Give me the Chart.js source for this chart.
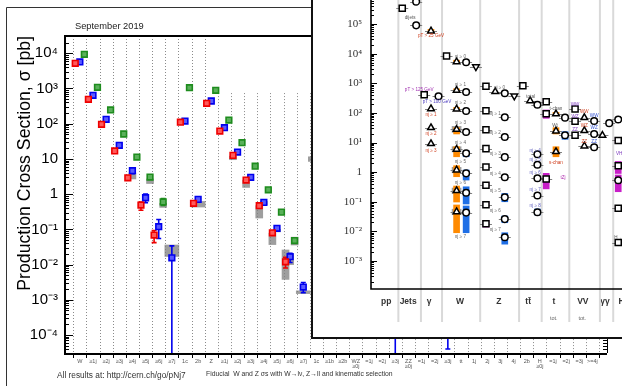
<!DOCTYPE html>
<html>
<head>
<meta charset="utf-8">
<script src="https://cdn.jsdelivr.net/npm/chart.js@4.4.1/dist/chart.umd.min.js"></script>
<style>
  html, body { margin: 0; padding: 0; background: #fff; overflow: hidden; }
  #page { position: relative; width: 622px; height: 386px; overflow: hidden; background: #fff; }
  #mainChart { position: absolute; left: 0; top: 0; }
  #insetBox { position: absolute; left: 311px; top: 0; width: 309px; height: 337px;
              border-left: 2px solid #111; border-bottom: 2px solid #111; background: #fff; }
  #insetChart { position: absolute; left: 0; top: 0; }
</style>
</head>
<body>
<div id="page">
  <canvas id="mainChart" width="622" height="386"></canvas>
  <div id="insetBox"><canvas id="insetChart" width="309" height="337"></canvas></div>
</div>
<script>
// ---------------- V+jets fiducial cross sections ----------------
const binLabels = ['W', '≥1j', '≥2j', '≥3j', '≥4j', '≥5j', '≥6j', '≥7j', '1c', '2b',
  'Z', '≥1j', '≥2j', '≥3j', '≥4j', '≥5j', '≥6j', '≥7j', '1c', '≥1b',
  '≥2b', ['WZ', '≥0j'], '=1j', '=2j', '≥3j', ['ZZ', '≥0j'], '=1j', '=2j', '≥3j', 'tt',
  '1j', '2j', '3j', '4j', '2b', ['H', '≥0j'], '=1j', '=2j', '=3j', '>=4j'];

const N = null;
// measured cross sections [pb] per bin
const sigma7TeV = [5200, 494, 96, 16.8, 2.92, 0.49, 0.069, N, 110, 0.55,
  380, 62, 12.6, 2.51, 0.47, 0.080, 0.012, N, N, N,
  N, N, N, N, N, N, N, N, N, N,
  N, N, N, N, N, N, N, N, N, N];
const sigma8TeV = [5670, 641, 133, 24.3, 4.62, 0.79, 0.119, 0.0156, 119, 0.71,
  441, 77, 15.7, 3.0, 0.585, 0.107, 0.0167, 0.0023, N, N,
  N, N, N, N, 0.004, N, N, N, 0.0003, N,
  N, N, N, N, N, N, N, N, N, N];
const sigma13TeV = [9340, 1080, 245, 51, 11.3, 3.06, 0.60, N, 1054, N,
  889, 127, 28.8, 6.2, 1.33, 0.309, 0.048, N, N, N,
  N, N, N, N, N, N, N, N, N, N,
  N, N, N, N, N, N, N, N, N, N];

// experimental uncertainty ranges [low, high] keyed by bin
const err7TeV = { 5: [0.35, 0.60], 6: [0.042, 0.093], 16: [0.008, 0.016] };
const err8TeV = { 4: [3.8, 5.6], 5: [0.57, 1.0], 6: [0.055, 0.19], 7: [1e-7, 0.034],
  16: [0.0115, 0.021], 17: [0.0016, 0.0031], 24: [1e-7, 0.008], 28: [4e-5, 0.0006] };
const err13TeV = { 5: [2.6, 3.5], 6: [0.48, 0.75] };

// theory prediction ranges [low, high] keyed by bin
const theory7TeV = { 12: [9.5, 12], 13: [1.55, 2.5], 14: [0.21, 0.47], 15: [0.037, 0.078],
  16: [0.0038, 0.026], 18: [8.5, 11.5] };
const theory8TeV = { 4: [2.7, 4.0], 14: [0.5, 0.62], 15: [0.085, 0.1], 16: [0.010, 0.020] };
const theory13TeV = { 5: [2.0, 2.7], 6: [0.42, 0.55], 16: [0.036, 0.06] };
const theoryShared = { 7: [0.017, 0.036], 9: [0.43, 0.62], 17: [0.0015, 0.0018] };

// ---------------- inset: SM summary ----------------
const insetGroups = ['pp', 'Jets', 'γ', 'W', 'Z', 'tt̄', 't', 'VV', 'γγ', 'H'];
const insetGroupPos = [6.1, 14.8, 23.2, 35.5, 50.9, 62.6, 72.9, 84.4, 93.2, 99.8];
const insetDividers = [10.9, 19.9, 28.3, 43.5, 59.0, 68.0, 79.0, 91.2, 96.5];

// [position, sigma pb]
const meas7TeV = [[12.45, 3.4e5], [21.2, 411], [30.1, 8300],
  [45.8, 789], [45.8, 118], [45.8, 27], [45.8, 6.2], [45.8, 1.49], [45.8, 0.36], [45.8, 0.079], [45.8, 0.018],
  [60.5, 827], [69.8, 238], [69.8, 93], [69.8, 0.59],
  [81.3, 135], [81.3, 52], [81.3, 17.5],
  [98.5, 11.7], [98.5, 1.65], [98.5, 0.06], [98.5, 0.0042]];
const meas8TeV = [[23.9, 5.8e4], [23.9, 138], [23.9, 31.6], [23.9, 9.1],
  [34.1, 5300], [34.1, 578], [34.1, 135], [34.1, 27.9], [34.1, 5.9], [34.1, 1.18], [34.1, 0.236], [34.1, 0.046],
  [49.5, 519], [63.4, 257], [73.7, 93], [73.7, 24.4], [73.7, 4.9],
  [85.0, 69], [85.0, 25], [85.0, 7.6], [92.2, 17.5]];
const meas13TeV = [[18.0, 5.66e5], [18.0, 9.0e4], [26.9, 363],
  [37.9, 5100], [37.9, 507], [37.9, 116], [37.9, 22.6], [37.9, 4.3], [37.9, 0.91], [37.9, 0.202], [37.9, 0.043],
  [53.3, 458], [53.3, 71], [53.3, 15.4], [53.3, 3.2], [53.3, 0.67], [53.3, 0.141], [53.3, 0.026], [53.3, 0.0063],
  [66.3, 189], [66.3, 4.0], [66.3, 1.78], [66.3, 0.62], [66.3, 0.162], [66.3, 0.044],
  [77.3, 69], [77.3, 17.5], [88.9, 53], [88.9, 19.4], [88.9, 6.9], [94.9, 45], [98.5, 60], [98.5, 0.53]];
const meas5TeV = [[41.8, 3600], [57.1, 372]];

// [position, low, high]
const pred8TeV = [[23.9, 5.0e4, 6.6e4], [34.1, 4700, 6000], [34.1, 510, 650], [34.1, 118, 152],
  [34.1, 19.4, 31.6], [34.1, 3.3, 7.2], [34.1, 0.70, 1.65], [34.1, 0.098, 0.34], [34.1, 0.009, 0.078],
  [73.7, 84, 104], [73.7, 19.4, 31.6], [73.7, 3.3, 7.2]];
const pred13TeV = [[37.9, 3.3, 5.3], [37.9, 0.54, 1.18], [37.9, 0.084, 0.32], [37.9, 0.009, 0.072],
  [53.3, 0.10, 0.19], [53.3, 0.0196, 0.033], [53.3, 0.0037, 0.009], [66.3, 0.036, 0.057], [77.3, 12.8, 23.2]];
const pred7TeV = [[45.8, 0.30, 0.45], [45.8, 0.065, 0.10], [45.8, 0.014, 0.023],
  [69.8, 200, 285], [69.8, 65.6, 125], [69.8, 0.272, 0.91],
  [98.5, 9.5, 14.5], [98.5, 0.9, 2.3], [98.5, 0.218, 0.80], [98.5, 0.05, 0.072]];
const predNNLO = [[34.1, 22, 35], [34.1, 4.8, 7.2], [34.1, 0.95, 1.45], [34.1, 0.19, 0.29], [34.1, 0.037, 0.056]];

// [text, position, sigma, colour]
const insetNotes = [
  ['dijets', 15.6, 1.68e5, '#555'], ['pT > 25 GeV', 23.9, 3.94e4, '#d04020'],
  ['pT > 125 GeV', 19.2, 625, '#a030b0'], ['pT > 100 GeV', 26.3, 238, '#5040c0'],
  ['nj ≥ 1', 23.9, 89.5, '#d04020'], ['nj ≥ 2', 23.9, 20.5, '#d04020'], ['nj ≥ 3', 23.9, 5.46, '#d04020'],
  ['nj ≥ 0', 35.6, 7870, '#666'], ['nj ≥ 1', 35.6, 893, '#666'], ['nj ≥ 2', 35.6, 215, '#666'],
  ['nj ≥ 3', 35.6, 48, '#666'], ['nj ≥ 4', 35.6, 10.2, '#666'], ['nj ≥ 5', 35.6, 2.25, '#666'],
  ['nj ≥ 6', 35.6, 0.453, '#666'], ['nj ≥ 7', 35.6, 0.0066, '#666'],
  ['nj ≥ 0', 51.2, 730, '#666'], ['nj ≥ 1', 49.5, 93.8, '#666'], ['nj ≥ 2', 49.5, 21.4, '#666'],
  ['nj ≥ 3', 49.5, 4.19, '#666'], ['nj ≥ 4', 49.5, 0.91, '#666'], ['nj ≥ 5', 49.5, 0.236, '#666'],
  ['nj ≥ 6', 49.5, 0.0488, '#666'], ['nj ≥ 7', 49.5, 0.0114, '#666'],
  ['total', 63.6, 352, '#555'],
  ['nj ≥ 4', 65.4, 5.28, '#6060c0'], ['nj ≥ 5', 65.4, 2.56, '#6060c0'], ['nj ≥ 6', 65.4, 0.955, '#6060c0'],
  ['nj ≥ 7', 65.4, 0.263, '#6060c0'], ['nj ≥ 8', 65.4, 0.072, '#6060c0'],
  ['t-chan', 73.7, 143, '#555'], ['Wt', 73.3, 38, '#555'], ['s-chan', 73.7, 2.15, '#d04020'], ['tZj', 76.5, 0.668, '#b030b0'],
  ['WW', 81.3, 195, '#8040c0'], ['WZ', 81.3, 74.3, '#8040c0'], ['ZZ', 81.3, 26.4, '#8040c0'],
  ['WW', 85.0, 107, '#d04020'], ['WZ', 85.0, 36, '#d04020'], ['ZZ', 85.0, 10.6, '#d04020'],
  ['WW', 88.9, 80, '#3050d0'], ['WZ', 88.9, 31.6, '#3050d0'], ['ZZ', 88.9, 11, '#3050d0'],
  ['VH', 98.9, 4.3, '#8040c0'], ['H→', 98.5, 0.0059, '#555']];

// ---------------- helpers ----------------
const SANS = "'Liberation Sans', Arial, Helvetica, sans-serif";
const SERIF = "'Liberation Serif', 'Times New Roman', serif";
const SUP = { '-': '⁻', '0': '⁰', '1': '¹', '2': '²', '3': '³', '4': '⁴', '5': '⁵', '6': '⁶', '7': '⁷', '8': '⁸', '9': '⁹' };
const sup = e => String(e).split('').map(c => SUP[c]).join('');
const decadeTicks = (lo, hi) => { const t = []; for (let e = lo; e <= hi; e++) t.push({ value: Math.pow(10, e) }); return t; };
// keep the plot area exactly where the layout puts it
const noEdgePadding = s => { s.paddingLeft = 0; s.paddingRight = 0; s.paddingTop = 0; s.paddingBottom = 0; };

const seriesDefs = [
  { label: '7 TeV', values: sigma7TeV, errors: err7TeV, theory: theory7TeV, offset: -0.35, color: '#ee0000', fill: '#ff5a5a' },
  { label: '8 TeV', values: sigma8TeV, errors: err8TeV, theory: theory8TeV, offset: 0.0, color: '#0000ee', fill: '#5a5aff' },
  { label: '13 TeV', values: sigma13TeV, errors: err13TeV, theory: theory13TeV, offset: 0.34, color: '#1e8c1e', fill: '#5ab05a' }
];

// gridlines stop below the legend box on the right-hand side
const legendFromBoundary = 10.5;
const legendFloor = 740;

// ---------------- main chart ----------------
const mainDatasets = [];
const narrowBands = [];
seriesDefs.forEach(s => Object.keys(s.theory).forEach(k => narrowBands.push({ x: +k + s.offset, y: s.theory[k] })));
mainDatasets.push({ type: 'bar', data: narrowBands, backgroundColor: 'rgba(125,125,125,0.75)',
  barThickness: 7, grouped: false, order: 6 });
mainDatasets.push({ type: 'bar', data: Object.keys(theoryShared).map(k => ({ x: +k, y: theoryShared[k] })),
  backgroundColor: 'rgba(125,125,125,0.75)', barThickness: 14, grouped: false, order: 5 });
seriesDefs.forEach(s => {
  const pts = [];
  s.values.forEach((v, i) => { if (v != null) pts.push({ x: i + s.offset, y: v }); });
  mainDatasets.push({ type: 'scatter', label: s.label, data: pts, pointStyle: 'rect', pointRadius: 4,
    borderWidth: 1.6, borderColor: s.color, backgroundColor: s.fill, order: 0 });
});

const mainDecor = {
  id: 'mainDecor',
  beforeDraw(chart) { chart.$errDone = false; },
  beforeDatasetsDraw(chart) {
    const { ctx, chartArea: a, scales: { x, y } } = chart;
    ctx.save();
    ctx.strokeStyle = '#8a8a8a'; ctx.lineWidth = 1; ctx.setLineDash([1, 2]);
    for (let b = -0.5; b <= 39.5; b += 1) {
      const px = Math.round(x.getPixelForValue(b)) + 0.5;
      const top = b >= legendFromBoundary ? y.getPixelForValue(legendFloor) : a.top;
      ctx.beginPath(); ctx.moveTo(px, top); ctx.lineTo(px, a.bottom); ctx.stroke();
    }
    ctx.restore();
  },
  beforeDatasetDraw(chart, args) {
    if (chart.$errDone || args.meta.type !== 'scatter') return;
    chart.$errDone = true;
    const { ctx, chartArea: a, scales: { x, y } } = chart;
    ctx.save();
    ctx.beginPath(); ctx.rect(a.left, a.top, a.right - a.left, a.bottom - a.top); ctx.clip();
    seriesDefs.forEach(s => {
      ctx.strokeStyle = s.color; ctx.lineWidth = 1.6;
      Object.keys(s.errors).forEach(k => {
        const [lo, hi] = s.errors[k];
        const px = x.getPixelForValue(+k + s.offset);
        const yl = Math.min(y.getPixelForValue(lo), a.bottom + 2);
        const yh = y.getPixelForValue(hi);
        ctx.beginPath(); ctx.moveTo(px, yl); ctx.lineTo(px, yh);
        ctx.moveTo(px - 2.5, yh); ctx.lineTo(px + 2.5, yh);
        if (yl < a.bottom) { ctx.moveTo(px - 2.5, yl); ctx.lineTo(px + 2.5, yl); }
        ctx.stroke();
      });
    });
    ctx.restore();
  },
  afterDraw(chart) {
    const { ctx, chartArea: a, scales: { x, y } } = chart;
    ctx.save();
    // outer frame
    ctx.strokeStyle = '#333'; ctx.lineWidth = 1;
    ctx.beginPath(); ctx.moveTo(6.5, 386); ctx.lineTo(6.5, 7.5); ctx.lineTo(622, 7.5); ctx.stroke();
    // axis frame
    ctx.strokeStyle = '#000'; ctx.lineWidth = 2;
    ctx.beginPath(); ctx.moveTo(a.left, a.top); ctx.lineTo(a.right, a.top); ctx.stroke();
    ctx.beginPath(); ctx.moveTo(a.left, a.top - 1); ctx.lineTo(a.left, a.bottom + 1); ctx.lineTo(a.right, a.bottom + 1); ctx.stroke();
    ctx.lineWidth = 1;
    ctx.beginPath(); ctx.moveTo(a.right + 0.5, a.top); ctx.lineTo(a.right + 0.5, a.bottom); ctx.stroke();
    // log tick marks, pointing inward
    ctx.beginPath();
    for (let e = -5; e <= 4; e++) for (let m = 1; m <= 9; m++) {
      const v = m * Math.pow(10, e);
      if (v < y.min || v > y.max) continue;
      const py = Math.round(y.getPixelForValue(v)) + 0.5;
      const len = m === 1 ? 8 : 4;
      ctx.moveTo(a.left, py); ctx.lineTo(a.left + len, py);
      ctx.moveTo(a.right, py); ctx.lineTo(a.right - len, py);
    }
    // bin boundary ticks below the axis
    for (let b = -0.5; b <= 39.5; b += 1) {
      const px = Math.round(x.getPixelForValue(b)) + 0.5;
      ctx.moveTo(px, a.bottom + 1); ctx.lineTo(px, a.bottom + 5);
    }
    ctx.stroke();
    // texts
    ctx.fillStyle = '#222'; ctx.textBaseline = 'alphabetic'; ctx.textAlign = 'left';
    ctx.font = '9.3px ' + SANS; ctx.fillText('September 2019', 75, 29);
    ctx.fillStyle = '#333';
    ctx.font = '8.3px ' + SANS; ctx.fillText('All results at: http://cern.ch/go/pNj7', 57, 377.5);
    ctx.font = '6.8px ' + SANS; ctx.fillText('Fiducial  W and Z σs with W→lν, Z→ll and kinematic selection', 206, 375.5);
    ctx.restore();
  }
};

new Chart(document.getElementById('mainChart'), {
  type: 'scatter',
  data: { datasets: mainDatasets },
  options: {
    responsive: false, animation: false, devicePixelRatio: 1,
    layout: { autoPadding: false, padding: { left: 0, right: 15, top: 36, bottom: 0 } },
    plugins: { legend: { display: false }, tooltip: { enabled: false }, title: { display: false } },
    scales: {
      x: {
        type: 'linear', min: -1.13, max: 40.11, offset: false,
        afterBuildTicks: s => { s.ticks = binLabels.map((_, i) => ({ value: i })); },
        afterFit: s => { s.height = 33; noEdgePadding(s); },
        grid: { display: false, drawTicks: false, tickLength: 0, offset: false },
        border: { display: false },
        ticks: { autoSkip: false, maxRotation: 0, minRotation: 0, padding: 6, color: '#555',
          font: { size: 5.5, family: SANS, lineHeight: 0.95 },
          callback: v => binLabels[Math.round(v)] }
      },
      y: {
        type: 'logarithmic', min: 3.09e-5, max: 3.09e4,
        afterBuildTicks: s => { s.ticks = decadeTicks(-4, 4); },
        afterFit: s => { s.width = 65; noEdgePadding(s); },
        grid: { display: false, drawTicks: false, tickLength: 0 },
        border: { display: false },
        title: { display: true, text: 'Production Cross Section, σ [pb]', align: 'end', color: '#000',
          font: { size: 17.7, family: SANS }, padding: { top: 14, bottom: 0 } },
        ticks: { padding: 7, color: '#000', font: { size: 15, family: SANS },
          callback: v => { const e = Math.round(Math.log10(v)); return e === 0 ? '1' : e === 1 ? '10' : '10' + sup(e); } }
      }
    }
  },
  plugins: [mainDecor]
});

// ---------------- inset chart ----------------
const toPts = arr => arr.map(p => ({ x: p[0], y: p[1] }));
const toBars = arr => arr.map(p => ({ x: p[0], y: [p[1], p[2]] }));
const markerBase = { type: 'scatter', backgroundColor: '#fff', borderColor: '#000', borderWidth: 1.5, order: 0 };
const insetDatasets = [
  { type: 'bar', data: toBars(predNNLO), backgroundColor: '#a0a0a0', barThickness: 9, grouped: false, order: 9 },
  { type: 'bar', data: toBars(pred8TeV), backgroundColor: '#ff8a00', barThickness: 6, grouped: false, order: 8 },
  { type: 'bar', data: toBars(pred13TeV), backgroundColor: '#1f6fe6', barThickness: 6, grouped: false, order: 8 },
  { type: 'bar', data: toBars(pred7TeV), backgroundColor: '#c81ec8', barThickness: 6, grouped: false, order: 8 },
  Object.assign({}, markerBase, { label: '7 TeV', data: toPts(meas7TeV), pointStyle: 'rect', pointRadius: 4.3 }),
  Object.assign({}, markerBase, { label: '8 TeV', data: toPts(meas8TeV), pointStyle: 'triangle', pointRadius: 3.8 }),
  Object.assign({}, markerBase, { label: '13 TeV', data: toPts(meas13TeV), pointStyle: 'circle', pointRadius: 3.3 }),
  Object.assign({}, markerBase, { label: '5 TeV', data: toPts(meas5TeV), pointStyle: 'triangle', rotation: 180, pointRadius: 3.8 })
];

const insetDecor = {
  id: 'insetDecor',
  beforeDraw(chart) { chart.$whiskDone = false; },
  beforeDatasetsDraw(chart) {
    const { ctx, scales: { x } } = chart;
    ctx.save(); ctx.strokeStyle = '#d9d9d9'; ctx.lineWidth = 2;
    insetDividers.forEach(d => {
      const px = x.getPixelForValue(d);
      ctx.beginPath(); ctx.moveTo(px, 0); ctx.lineTo(px, 322); ctx.stroke();
    });
    ctx.restore();
  },
  beforeDatasetDraw(chart, args) {
    if (chart.$whiskDone || args.meta.type !== 'scatter') return;
    chart.$whiskDone = true;
    const { ctx, scales: { x, y } } = chart;
    ctx.save(); ctx.strokeStyle = '#808080'; ctx.lineWidth = 1;
    [meas7TeV, meas8TeV, meas13TeV, meas5TeV].forEach(list => list.forEach(p => {
      const px = x.getPixelForValue(p[0]), py = Math.round(y.getPixelForValue(p[1])) + 0.5;
      ctx.beginPath(); ctx.moveTo(px - 6, py); ctx.lineTo(px + 6, py); ctx.stroke();
    }));
    ctx.restore();
  },
  afterDatasetsDraw(chart) {
    const { ctx, scales: { x, y } } = chart;
    ctx.save(); ctx.textAlign = 'center'; ctx.textBaseline = 'middle'; ctx.font = '4.6px ' + SANS;
    insetNotes.forEach(n => { ctx.fillStyle = n[3]; ctx.fillText(n[0], x.getPixelForValue(n[1]), y.getPixelForValue(n[2])); });
    ctx.restore();
  },
  afterDraw(chart) {
    const { ctx, chartArea: a, scales: { x, y } } = chart;
    ctx.save();
    ctx.strokeStyle = '#000'; ctx.lineWidth = 1.6;
    ctx.beginPath(); ctx.moveTo(a.left, 0); ctx.lineTo(a.left, a.bottom); ctx.lineTo(a.right, a.bottom); ctx.stroke();
    ctx.lineWidth = 1; ctx.beginPath();
    for (let e = -4; e <= 5; e++) for (let m = 1; m <= 9; m++) {
      const v = m * Math.pow(10, e);
      if (v < y.min || v > y.max) continue;
      const py = Math.round(y.getPixelForValue(v)) + 0.5;
      ctx.moveTo(a.left, py); ctx.lineTo(a.left + (m === 1 ? 6 : 3), py);
    }
    ctx.stroke();
    ctx.fillStyle = '#666'; ctx.font = '5.5px ' + SANS; ctx.textAlign = 'center'; ctx.textBaseline = 'middle';
    ctx.fillText('tot.', x.getPixelForValue(72.8), 318.5);
    ctx.fillText('tot.', x.getPixelForValue(84.2), 318.5);
    ctx.restore();
  }
};

new Chart(document.getElementById('insetChart'), {
  type: 'scatter',
  data: { datasets: insetDatasets },
  options: {
    responsive: false, animation: false, devicePixelRatio: 1,
    layout: { autoPadding: false, padding: 0 },
    plugins: { legend: { display: false }, tooltip: { enabled: false } },
    scales: {
      x: {
        type: 'linear', min: 0, max: 100, offset: false,
        afterBuildTicks: s => { s.ticks = insetGroupPos.map(v => ({ value: v })); },
        afterFit: s => { s.height = 48; noEdgePadding(s); },
        grid: { display: false, drawTicks: false, tickLength: 0, offset: false },
        border: { display: false },
        ticks: { autoSkip: false, maxRotation: 0, minRotation: 0, padding: 8, color: '#333',
          font: { size: 8.5, family: SANS, weight: 'bold' },
          callback: (v, i) => insetGroups[i] }
      },
      y: {
        type: 'logarithmic', min: 1.135e-4, max: 6.46e5,
        afterBuildTicks: s => { s.ticks = decadeTicks(-3, 5); },
        afterFit: s => { s.width = 58; noEdgePadding(s); },
        grid: { display: false, drawTicks: false, tickLength: 0 },
        border: { display: false },
        ticks: { padding: 9, color: '#333', font: { size: 11, family: SERIF },
          callback: v => { const e = Math.round(Math.log10(v)); return e === 0 ? '1' : '10' + sup(e); } }
      }
    }
  },
  plugins: [insetDecor]
});
</script>
</body>
</html>
